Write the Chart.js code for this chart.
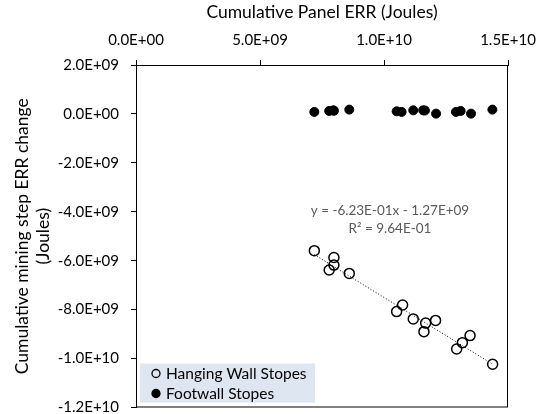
<!DOCTYPE html>
<html>
<head>
<meta charset="utf-8">
<script src="https://cdn.jsdelivr.net/npm/chart.js@4.4.1/dist/chart.umd.min.js"></script>
<style>
html, body { margin: 0; padding: 0; background: #fff; }
</style>
</head>
<body>
<canvas id="chart" width="539" height="414"></canvas>
<script>
// Hanging wall stopes (hollow circles)
const hangingX = [7.19e9, 7.98e9, 7.98e9, 7.79e9, 8.60e9, 10.75e9, 10.51e9, 11.18e9, 12.08e9, 11.68e9, 11.61e9, 13.47e9, 13.16e9, 12.93e9, 14.38e9];
const hangingY = [-5.59e9, -5.87e9, -6.18e9, -6.38e9, -6.52e9, -7.81e9, -8.08e9, -8.38e9, -8.44e9, -8.55e9, -8.90e9, -9.06e9, -9.35e9, -9.61e9, -10.23e9];

// Footwall stopes (filled dots)
const footX = [7.19e9, 7.79e9, 7.96e9, 7.98e9, 8.60e9, 10.51e9, 10.71e9, 11.18e9, 11.58e9, 11.65e9, 12.10e9, 12.90e9, 13.09e9, 13.51e9, 14.37e9];
const footY = [0.82e8, 1.22e8, 1.47e8, 1.30e8, 1.76e8, 1.06e8, 0.82e8, 1.47e8, 1.47e8, 1.40e8, 0.12e8, 0.82e8, 1.22e8, 0.12e8, 1.76e8];

// linear trendline of the hanging wall stopes, end points
const trendX = [7.19e9, 14.38e9];
const trendY = [-5.75e9, -10.23e9];
const trendText = ['y = -6.23E-01x - 1.27E+09', 'R² = 9.64E-01'];

const xTitle = 'Cumulative Panel ERR (Joules)';
const yTitle = ['Cumulative mining step ERR change', '(Joules)'];

const FONT = 'Lato, "Open Sans", sans-serif';

const toPoints = (xs, ys) => xs.map((x, i) => ({ x: x, y: ys[i] }));

function sci(v) {
    const s = Number(v).toExponential(1).toUpperCase();
    const [m, e] = s.split('E');
    const sign = e[0] === '-' ? '-' : '+';
    const digits = e.replace(/[+-]/, '').padStart(2, '0');
    return m + 'E' + sign + digits;
}

const extras = {
    id: 'extras',
    afterDatasetsDraw(chart) {
        const { ctx, chartArea: a, scales } = chart;
        ctx.save();
        // frame
        ctx.strokeStyle = '#000';
        ctx.lineWidth = 1;
        ctx.strokeRect(a.left + 0.5, a.top + 0.5, a.right - a.left - 1, a.bottom - a.top - 1);

        // trendline label
        ctx.fillStyle = '#595959';
        ctx.font = '13.5px ' + FONT;
        ctx.textAlign = 'center';
        ctx.textBaseline = 'middle';
        const tx = scales.x.getPixelForValue(10.24e9);
        const ty = scales.y.getPixelForValue(-3.94e9);
        trendText.forEach((t, i) => ctx.fillText(t, tx, ty + i * 18));

        // legend box
        const lx = a.left + 4, ly = a.bottom - 44, lw = 175, lh = 39;
        ctx.fillStyle = '#dee6f2';
        ctx.fillRect(lx, ly, lw, lh);
        ctx.font = '15.5px ' + FONT;
        ctx.textAlign = 'left';
        const items = chart.data.datasets.filter(d => d.legend);
        items.forEach((d, i) => {
            const cy = ly + 10 + i * 20;
            ctx.beginPath();
            ctx.arc(lx + 16, cy, 4, 0, Math.PI * 2);
            if (d.pointBackgroundColor !== 'transparent') {
                ctx.fillStyle = d.pointBackgroundColor;
                ctx.fill();
            }
            ctx.strokeStyle = '#000';
            ctx.lineWidth = 1.3;
            ctx.stroke();
            ctx.fillStyle = '#000';
            ctx.fillText(d.label, lx + 26, cy);
        });
        ctx.restore();
    }
};

new Chart(document.getElementById('chart'), {
    type: 'scatter',
    data: {
        datasets: [
            {
                label: 'Trend',
                data: toPoints(trendX, trendY),
                showLine: true,
                borderColor: '#000',
                borderWidth: 1,
                borderDash: [1, 2],
                pointRadius: 0,
                order: 3
            },
            {
                label: 'Hanging Wall Stopes',
                legend: true,
                data: toPoints(hangingX, hangingY),
                pointRadius: 5,
                pointBackgroundColor: 'transparent',
                pointBorderColor: '#000',
                pointBorderWidth: 1.5,
                order: 2
            },
            {
                label: 'Footwall Stopes',
                legend: true,
                data: toPoints(footX, footY),
                pointRadius: 4.5,
                pointBackgroundColor: '#000',
                pointBorderColor: '#000',
                pointBorderWidth: 1,
                order: 1
            }
        ]
    },
    options: {
        responsive: false,
        animation: false,
        layout: { padding: { left: 0, top: 0, right: 31, bottom: 6 } },
        plugins: {
            legend: { display: false },
            tooltip: { enabled: false }
        },
        scales: {
            x: {
                type: 'linear',
                position: 'top',
                min: 0,
                max: 1.5e10,
                afterFit: s => {
                    s.height = 65;
                    s.paddingLeft = 0;
                    s.paddingRight = 0;
                },
                ticks: {
                    stepSize: 5e9,
                    padding: 11,
                    color: '#000',
                    font: { family: FONT, size: 15 },
                    callback: v => sci(v)
                },
                grid: { drawOnChartArea: false, color: '#000', tickLength: 5 },
                border: { color: '#000', width: 1 },
                title: { display: true, text: xTitle, color: '#000', font: { family: FONT, size: 17.5 }, padding: { top: 2, bottom: 4 } }
            },
            y: {
                type: 'linear',
                min: -1.2e10,
                max: 2e9,
                afterFit: s => {
                    s.width = 136;
                    s.paddingTop = 0;
                    s.paddingBottom = 0;
                },
                ticks: {
                    stepSize: 2e9,
                    padding: 12,
                    color: '#000',
                    font: { family: FONT, size: 15 },
                    callback: v => sci(v)
                },
                grid: { drawOnChartArea: false, color: '#000', tickLength: 5 },
                border: { color: '#000', width: 1 },
                title: { display: true, text: yTitle, color: '#000', font: { family: FONT, size: 17.5 }, padding: { top: 12, bottom: 4 } }
            }
        }
    },
    plugins: [extras]
});
</script>
</body>
</html>
